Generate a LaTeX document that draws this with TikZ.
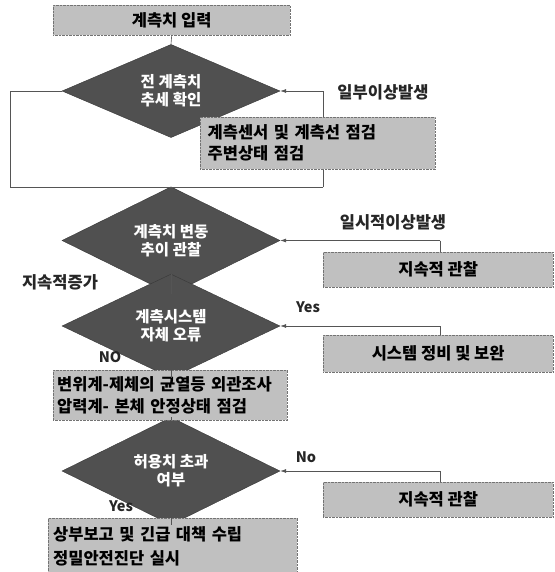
\documentclass[tikz,border=0pt]{standalone}
\usepackage{fontspec}
\setmainfont{Noto Sans CJK KR}
\usetikzlibrary{shapes.geometric,arrows.meta}
\definecolor{dfill}{HTML}{505050}
\definecolor{bfill}{HTML}{C0C0C0}
\definecolor{lcol}{HTML}{555555}
\tikzset{
  dec/.style={diamond, fill=dfill, draw=dfill!70!black, minimum width=218pt, inner sep=0pt,
    text=white, font=\fontsize{15.5}{18}\selectfont\bfseries, align=center},
  boxw/.style={rectangle, fill=bfill, draw=black!55, densely dotted, inner sep=4pt,
    font=\fontsize{16.5}{22}\selectfont\bfseries},
  lab/.style={font=\fontsize{16.5}{18}\selectfont\bfseries, text=black!85},
  yn/.style={font=\fontsize{14.5}{16}\selectfont\bfseries, text=black!85},
  conn/.style={draw=lcol, line width=0.6pt},
  arr/.style={conn, -{Latex[length=6pt,width=4pt]}},
}
\begin{document}
\begin{tikzpicture}[x=1pt,y=-1pt]
\useasboundingbox (0,0) rectangle (554,572);
% diamonds
\node[dec, minimum height=85pt] (d1) at (171,91) {전 계측치\\추세 확인};
\node[dec, minimum height=76pt] (d2) at (171,240.5) {계측치 변동\\추이 관찰};
\node[dec, minimum height=82pt] (d3) at (171,326) {계측시스템\\자체 오류};
\node[dec, minimum height=84pt] (d4) at (171,471) {허용치 초과\\여부};
% helper coordinates
\coordinate (l1) at (10,91);
\coordinate (l2) at (10,187);
\coordinate (l3) at (171,187);
\coordinate (l4) at (323,187);
\coordinate (l5) at (323,91);
\coordinate (r2) at (440,240.5);
\coordinate (r3) at (440,326);
\coordinate (r4) at (440,471);
% loop behind the box
\draw[conn] (d1.west) -- (l1) -- (l2) -- (l4);
\draw[arr] (l4) -- (l5) -- (d1.east);
% boxes
\node[boxw, minimum width=237pt, minimum height=30pt, anchor=north west] (b0) at (53,5) {계측치 입력};
\node[boxw, minimum width=235pt, minimum height=52pt, anchor=north west, align=left, text width=220pt, inner xsep=7pt, font=\fontsize{16.5}{21}\selectfont\bfseries] (b1) at (200,117) {계측센서 및 계측선 점검\\주변상태 점검};
\node[boxw, minimum width=230pt, minimum height=35pt, anchor=north west] (b2) at (323,252) {지속적 관찰};
\node[boxw, minimum width=230pt, minimum height=37pt, anchor=north west] (b3) at (323,335) {시스템 정비 및 보완};
\node[boxw, minimum width=234pt, minimum height=50pt, anchor=north west, align=left, text width=226pt, font=\fontsize{16.5}{22}\selectfont\bfseries] (b4) at (53,370) {변위계-제체의 균열등 외관조사\\압력계- 본체 안정상태 점검};
\node[boxw, minimum width=230pt, minimum height=35pt, anchor=north west] (b5) at (323,482) {지속적 관찰};
\node[boxw, minimum width=249pt, minimum height=56pt, anchor=north west, align=left, text width=239pt, inner xsep=5pt, font=\fontsize{16.5}{24}\selectfont\bfseries] (b6) at (48,518) {상부보고 및 긴급 대책 수립\\정밀안전진단 실시};
% connectors
\draw[conn] (b0.south) -- (d1.north);
\draw[conn] (l3) -- (d2.north);
\draw[conn] (d2.south) -- (d3.north);
\draw[arr] (r2) -- (d2.east);
\draw[conn] (r2) -- (r2 |- b2.north);
\draw[arr] (r3) -- (d3.east);
\draw[conn] (r3) -- (r3 |- b3.north);
\draw[conn] (d3.south) -- (b4.north -| d3.south);
\draw[conn] (b4.south -| d4.north) -- (d4.north);
\draw[arr] (r4) -- (d4.east);
\draw[conn] (r4) -- (r4 |- b5.north);
\draw[conn] (d4.south) -- (b6.north -| d4.south);
% labels
\node[lab] (t1) at (383,92) {일부이상발생};
\node[lab] (t2) at (393,222) {일시적이상발생};
\node[lab] (t3) at (60,282) {지속적증가};
\node[yn] (t4) at (308,307) {Yes};
\node[yn] (t5) at (110,357) {NO};
\node[yn] (t6) at (306,457) {No};
\node[yn] (t7) at (121,506) {Yes};
\end{tikzpicture}
\end{document}
